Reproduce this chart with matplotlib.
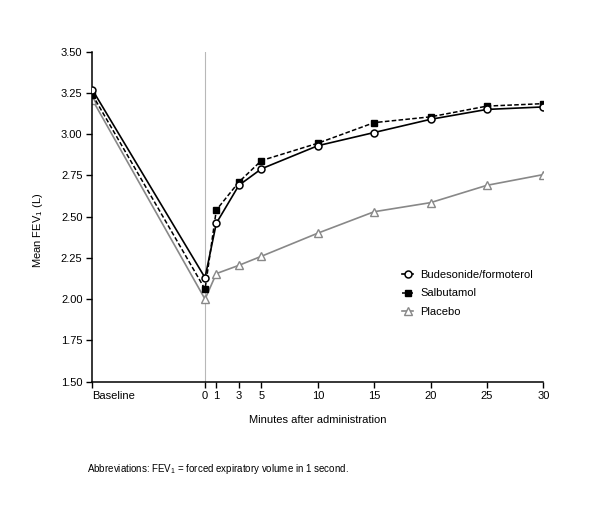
import matplotlib
matplotlib.use("Agg")
import matplotlib.pyplot as plt

plt.rcParams['font.family'] = ['Liberation Sans', 'DejaVu Sans']
plt.rcParams['mathtext.fontset'] = 'custom'
plt.rcParams['mathtext.rm'] = 'Liberation Sans'
plt.rcParams['mathtext.it'] = 'Liberation Sans'
plt.rcParams['font.size'] = 8

# time points: baseline drawn at -10 on the minute scale
minutes = [-10, 0, 1, 3, 5, 10, 15, 20, 25, 30]
tick_pos = [-10, 0, 1, 3, 5, 10, 15, 20, 25, 30]
tick_labels = ['Baseline', '0', '1', '3', '5', '10', '15', '20', '25', '30']

budesonide = [3.27, 2.13, 2.46, 2.69, 2.79, 2.93, 3.01, 3.09, 3.15, 3.165]
salbutamol = [3.24, 2.06, 2.54, 2.71, 2.84, 2.945, 3.07, 3.105, 3.17, 3.185]
placebo = [3.21, 2.00, 2.155, 2.205, 2.26, 2.40, 2.53, 2.585, 2.69, 2.755]

fig = plt.figure(figsize=(6, 5.05), dpi=100)
ax = fig.add_axes([0.1538, 0.2442, 0.7517, 0.6535])

ax.axvline(0, color='#b8b8b8', lw=0.8, zorder=0)

ax.plot(minutes, placebo, color='#888888', lw=1.2, marker='^', ms=5.5,
        mfc='white', mec='#888888', mew=1, label='Placebo', zorder=2)
ax.plot(minutes, salbutamol, color='black', lw=1.1, ls=(0, (3, 1.5)), marker='s',
        ms=5, mfc='black', mec='black', label='Salbutamol', zorder=3)
ax.plot(minutes, budesonide, color='black', lw=1.2, marker='o', ms=5,
        mfc='white', mec='black', mew=1.1, label='Budesonide/formoterol', zorder=4)

ax.set_xlim(-10, 30)
ax.set_ylim(1.5, 3.5)
ax.set_xticks(tick_pos)
ax.set_xticklabels(tick_labels)
ax.get_xticklabels()[0].set_horizontalalignment('left')
ax.set_yticks([1.5, 1.75, 2.0, 2.25, 2.5, 2.75, 3.0, 3.25, 3.5])
ax.set_yticklabels(['%.2f' % v for v in ax.get_yticks()])
ax.tick_params(direction='out', length=4, width=1, colors='black', pad=3)

for s in ['top', 'right']:
    ax.spines[s].set_visible(False)
for s in ['left', 'bottom']:
    ax.spines[s].set_linewidth(1.1)

ax.set_xlabel('Minutes after administration', fontsize=8, labelpad=10)
ax.set_ylabel('Mean FEV$_1$ (L)', fontsize=8)
ax.yaxis.set_label_coords(-0.105, 0.46)

handles, labels = ax.get_legend_handles_labels()
ax.legend(handles[::-1], labels[::-1], loc='upper left', bbox_to_anchor=(0.665, 0.37),
          frameon=False, handlelength=1.0, handletextpad=0.6, labelspacing=0.8,
          fontsize=8, markerscale=1.0)

fig.text(0.145, 0.065, 'Abbreviations: FEV$_1$ = forced expiratory volume in 1 second.',
         fontsize=7)

fig.savefig('out.png', dpi=100)
